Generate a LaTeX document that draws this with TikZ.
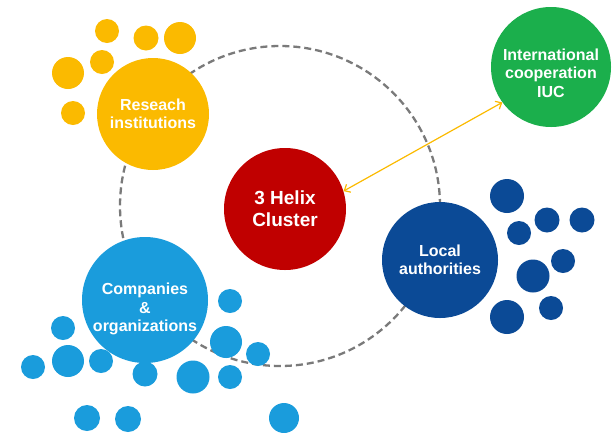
\documentclass[tikz,border=0pt]{standalone}
\usepackage{fontspec}
\setmainfont{Liberation Sans}
\usetikzlibrary{arrows.meta}
\definecolor{cyel}{HTML}{FBBA00}
\definecolor{cred}{HTML}{C00000}
\definecolor{cgreen}{HTML}{1BAF4C}
\definecolor{cdark}{HTML}{0B4A96}
\definecolor{clight}{HTML}{1A9CDC}
\definecolor{cring}{HTML}{7A7A7A}
\begin{document}
\begin{tikzpicture}[x=1pt,y=-1pt,
  big/.style={circle, inner sep=0pt, text=white, align=center,
    font=\bfseries\fontsize{16}{18.5}\selectfont},
  label text/.style={inner sep=0pt, text=white, align=center,
    font=\bfseries\fontsize{16}{18.5}\selectfont},
  dot/.style={circle, inner sep=0pt},
  ydot/.style={dot, fill=cyel},
  bdot/.style={dot, fill=clight},
  ddot/.style={dot, fill=cdark},
  ringstyle/.style={circle, draw=cring, line width=2.3pt, dash pattern=on 7pt off 4pt, inner sep=0pt},
  link/.style={draw=cyel, line width=1.2pt, {Straight Barb[length=5pt,width=9pt]}-{Straight Barb[length=5pt,width=9pt]}}]
\useasboundingbox (0,0) rectangle (615,432);

% dashed ring
\node[ringstyle, minimum size=320pt] (ring) at (280,206) {};

% main circles
\node[big, fill=cred, minimum size=122pt, font=\bfseries\fontsize{19}{22}\selectfont] (helix) at (285,209) {3 Helix\\Cluster};
\node[big, fill=cgreen, minimum size=120pt] (intl) at (551,67) {};
\node[label text] (intltext) at ([yshift=-6pt]intl.center) {International\\cooperation\\IUC};

% arrow
\draw[link] (helix.17) -- (intl.216);

\node[big, fill=cyel, minimum size=112pt] (res) at (153,114) {Reseach\\institutions};
\node[big, fill=cdark, minimum size=116pt] (loc) at (440,260) {Local\\authorities};
\node[big, fill=clight, minimum size=126pt] (comp) at (145,300) {};
\node[label text] (comptext) at ([yshift=-9pt]comp.center) {Companies\\\&\\organizations};

% yellow dots
\node[ydot, minimum size=24pt] (y1) at (107,31) {};
\node[ydot, minimum size=25pt] (y2) at (146,38) {};
\node[ydot, minimum size=32pt] (y3) at (180,38) {};
\node[ydot, minimum size=24pt] (y4) at (102,62) {};
\node[ydot, minimum size=32pt] (y5) at (68,73) {};
\node[ydot, minimum size=24pt] (y6) at (73,113) {};

% dark blue dots
\node[ddot, minimum size=34pt] (d1) at (507,196) {};
\node[ddot, minimum size=24pt] (d2) at (519,233) {};
\node[ddot, minimum size=25pt] (d3) at (547,220) {};
\node[ddot, minimum size=25pt] (d4) at (582,220) {};
\node[ddot, minimum size=24pt] (d5) at (563,261) {};
\node[ddot, minimum size=33pt] (d6) at (533,276) {};
\node[ddot, minimum size=34pt] (d7) at (507,317) {};
\node[ddot, minimum size=24pt] (d8) at (551,308) {};

% light blue dots
\node[bdot, minimum size=24pt] (b1) at (230,301) {};
\node[bdot, minimum size=32pt] (b2) at (226,342) {};
\node[bdot, minimum size=24pt] (b3) at (258,354) {};
\node[bdot, minimum size=24pt] (b4) at (63,328) {};
\node[bdot, minimum size=32pt] (b5) at (68,361) {};
\node[bdot, minimum size=24pt] (b6) at (33,367) {};
\node[bdot, minimum size=24pt] (b7) at (101,361) {};
\node[bdot, minimum size=25pt] (b8) at (145,374) {};
\node[bdot, minimum size=33pt] (b9) at (193,377) {};
\node[bdot, minimum size=24pt] (b10) at (230,377) {};
\node[bdot, minimum size=26pt] (b11) at (87,418) {};
\node[bdot, minimum size=26pt] (b12) at (128,419) {};
\node[bdot, minimum size=30pt] (b13) at (284,418) {};
\end{tikzpicture}
\end{document}
